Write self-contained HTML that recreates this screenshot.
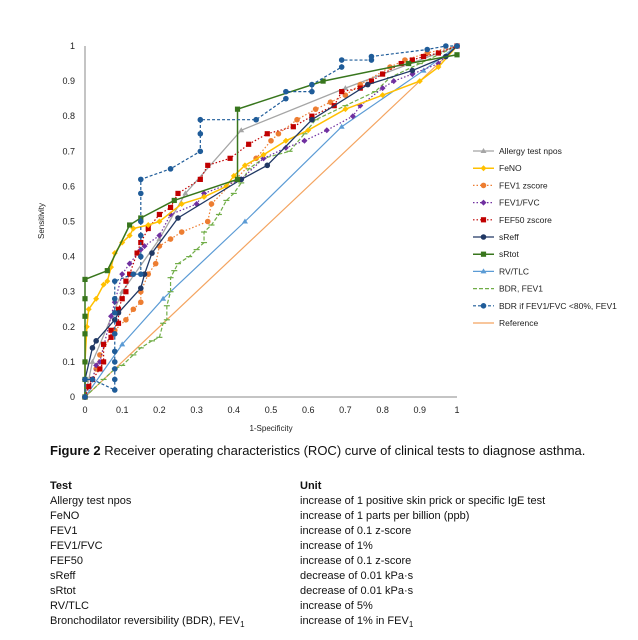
<!DOCTYPE html>
<html><head><meta charset="utf-8">
<style>
body{margin:0;background:#fff;width:638px;height:640px;overflow:hidden;font-family:"Liberation Sans",sans-serif}
svg{position:absolute;left:0;top:0}
.t{position:absolute;font-size:11px;color:#111;white-space:nowrap}
</style></head><body>
<svg id="chart" width="638" height="440" xmlns="http://www.w3.org/2000/svg"></svg>
<div class="t" style="left:50px;top:443px;font-size:13px"><b>Figure 2</b> Receiver operating characteristics (ROC) curve of clinical tests to diagnose asthma.</div>
<div>
<div class="t" style="left:50px;top:480px;font-weight:bold">Test</div><div class="t" style="left:300px;top:480px;font-weight:bold">Unit</div>
<div class="t" style="left:50px;top:495px">Allergy test npos</div><div class="t" style="left:300px;top:495px">increase of 1 positive skin prick or specific IgE test</div>
<div class="t" style="left:50px;top:510px">FeNO</div><div class="t" style="left:300px;top:510px">increase of 1 parts per billion (ppb)</div>
<div class="t" style="left:50px;top:525px">FEV1</div><div class="t" style="left:300px;top:525px">increase of 0.1 z-score</div>
<div class="t" style="left:50px;top:540px">FEV1/FVC</div><div class="t" style="left:300px;top:540px">increase of 1%</div>
<div class="t" style="left:50px;top:555px">FEF50</div><div class="t" style="left:300px;top:555px">increase of 0.1 z-score</div>
<div class="t" style="left:50px;top:570px">sReff</div><div class="t" style="left:300px;top:570px">decrease of 0.01 kPa·s</div>
<div class="t" style="left:50px;top:585px">sRtot</div><div class="t" style="left:300px;top:585px">decrease of 0.01 kPa·s</div>
<div class="t" style="left:50px;top:600px">RV/TLC</div><div class="t" style="left:300px;top:600px">increase of 5%</div>
<div class="t" style="left:50px;top:615px">Bronchodilator reversibility (BDR), FEV<sub style="font-size:8px">1</sub></div><div class="t" style="left:300px;top:615px">increase of 1% in FEV<sub style="font-size:8px">1</sub></div>
</div>
<script>
const ticks=[0,0.1,0.2,0.3,0.4,0.5,0.6,0.7,0.8,0.9,1];
const tickLabels=["0","0.1","0.2","0.3","0.4","0.5","0.6","0.7","0.8","0.9","1"];
const seriesNames=["Allergy test npos","FeNO","FEV1 zscore","FEV1/FVC","FEF50 zscore","sReff","sRtot","RV/TLC","BDR, FEV1","BDR if FEV1/FVC <80%, FEV1","Reference"];
const allergyX=[0,0.02,0.1,0.2,0.27,0.42,0.7,1];
const allergyY=[0,0.1,0.3,0.45,0.58,0.76,0.88,1];
const fenoX=[0,0,0.005,0.01,0.03,0.05,0.06,0.07,0.08,0.1,0.12,0.13,0.17,0.2,0.26,0.32,0.38,0.4,0.43,0.48,0.54,0.6,0.7,0.8,0.9,0.95,1];
const fenoY=[0,0.1,0.2,0.25,0.28,0.32,0.33,0.37,0.41,0.44,0.46,0.48,0.49,0.5,0.55,0.57,0.6,0.63,0.66,0.69,0.73,0.76,0.82,0.86,0.9,0.94,1];
const fev1X=[0,0.03,0.04,0.08,0.11,0.13,0.15,0.15,0.17,0.19,0.2,0.23,0.26,0.33,0.34,0.46,0.5,0.52,0.57,0.62,0.66,0.7,0.74,0.82,0.86,0.92,1];
const fev1Y=[0,0.08,0.12,0.19,0.22,0.25,0.27,0.3,0.35,0.38,0.43,0.45,0.47,0.5,0.55,0.68,0.73,0.75,0.79,0.82,0.84,0.86,0.89,0.94,0.96,0.98,1];
const fvcX=[0,0.02,0.03,0.04,0.07,0.08,0.1,0.12,0.15,0.16,0.2,0.23,0.3,0.32,0.42,0.48,0.54,0.59,0.65,0.72,0.74,0.8,0.83,0.88,0.95,1];
const fvcY=[0,0.05,0.09,0.1,0.23,0.27,0.35,0.38,0.42,0.43,0.46,0.52,0.55,0.58,0.62,0.68,0.71,0.73,0.76,0.8,0.83,0.88,0.9,0.92,0.95,1];
const fef50X=[0,0.01,0.02,0.04,0.05,0.05,0.07,0.07,0.09,0.09,0.1,0.11,0.11,0.12,0.14,0.15,0.17,0.2,0.23,0.25,0.31,0.33,0.39,0.44,0.49,0.56,0.61,0.67,0.69,0.74,0.77,0.8,0.85,0.88,0.91,0.95,1];
const fef50Y=[0,0.03,0.05,0.08,0.1,0.15,0.17,0.19,0.21,0.25,0.28,0.3,0.33,0.35,0.41,0.44,0.48,0.52,0.54,0.58,0.62,0.66,0.68,0.72,0.75,0.77,0.8,0.83,0.87,0.88,0.9,0.92,0.95,0.96,0.97,0.98,1];
const sreffX=[0,0,0.02,0.03,0.08,0.09,0.15,0.16,0.18,0.25,0.42,0.49,0.61,0.76,0.88,0.97,1];
const sreffY=[0,0.05,0.14,0.16,0.22,0.24,0.31,0.35,0.41,0.51,0.62,0.66,0.79,0.89,0.93,0.97,1];
const srtotX=[0,0,0,0,0,0,0,0.06,0.12,0.15,0.24,0.41,0.41,0.64,0.87,1];
const srtotY=[0,0.05,0.1,0.18,0.23,0.28,0.335,0.36,0.49,0.51,0.56,0.62,0.82,0.9,0.95,0.975];
const rvX=[0,0.1,0.21,0.43,0.69,0.91,1];
const rvY=[0,0.15,0.28,0.5,0.77,0.93,1];
const bdrX=[0,0.05,0.08,0.1,0.13,0.15,0.18,0.2,0.21,0.22,0.22,0.23,0.23,0.24,0.25,0.28,0.3,0.32,0.32,0.34,0.36,0.38,0.4,0.42,0.44,0.48,0.55,0.59,0.62,0.7,0.78,0.82,0.9,1];
const bdrY=[0,0.05,0.08,0.09,0.12,0.14,0.16,0.17,0.21,0.22,0.26,0.3,0.34,0.36,0.38,0.4,0.42,0.44,0.47,0.49,0.52,0.56,0.58,0.61,0.65,0.68,0.7,0.75,0.79,0.83,0.87,0.91,0.95,1];
const bdr80X=[0,0,0.02,0.08,0.08,0.08,0.08,0.08,0.08,0.08,0.08,0.08,0.13,0.15,0.15,0.15,0.15,0.15,0.15,0.23,0.31,0.31,0.31,0.46,0.54,0.54,0.61,0.61,0.69,0.69,0.77,0.77,0.92,0.97,1];
const bdr80Y=[0,0.05,0.05,0.02,0.05,0.08,0.1,0.13,0.18,0.24,0.28,0.33,0.35,0.35,0.4,0.46,0.5,0.58,0.62,0.65,0.7,0.75,0.79,0.79,0.85,0.87,0.87,0.89,0.94,0.96,0.96,0.97,0.99,1,1];
const refX=[0,1];
const refY=[0,1];

const svg=document.getElementById('chart');const NS="http://www.w3.org/2000/svg";
const X=v=>85+372*v, Y=v=>397-351*v;
function mk(t,a,p){const e=document.createElementNS(NS,t);for(const k in a)e.setAttribute(k,a[k]);(p||svg).appendChild(e);return e;}
let ax=mk('line',{x1:X(0),y1:Y(0),x2:X(0),y2:Y(1),stroke:'#888','stroke-width':1});


let ax2=mk('line',{x1:X(0),y1:Y(0),x2:X(1),y2:Y(0),stroke:'#888','stroke-width':1});


ticks.forEach((t,i)=>{
 let a=mk('text',{x:X(t),y:413,'font-size':9,'text-anchor':'middle',fill:'#222'});a.textContent=tickLabels[i];
 
 
 let b=mk('text',{x:75,y:Y(t)+3,'font-size':9,'text-anchor':'end',fill:'#222'});b.textContent=tickLabels[i];
 
 
});
let xt=mk('text',{x:271,y:431,'font-size':8,'text-anchor':'middle',fill:'#222'});xt.textContent='1-Specificity';


let yt=mk('text',{x:0,y:0,'font-size':8,'text-anchor':'middle',fill:'#222',transform:'translate(44,221) rotate(-90)'});yt.textContent='Sensitivity';



const styles=[
 {c:'#a5a5a5',d:'',m:'tri',w:1.3},{c:'#ffc000',d:'',m:'dia',w:1.5},{c:'#ed7d31',d:'1.5 2',m:'circ',w:1.2},
 {c:'#7030a0',d:'1.5 2',m:'dia',w:1.2},{c:'#c00000',d:'1.5 2',m:'sq',w:1.2},{c:'#203864',d:'',m:'circ',w:1.3},
 {c:'#38761d',d:'',m:'sq',w:1.5},{c:'#5b9bd5',d:'',m:'tri',w:1.2},{c:'#70ad47',d:'4 2',m:'dash',w:1.2},
 {c:'#1f5c99',d:'3 2',m:'circ',w:1.2},{c:'#f4a460',d:'',m:'none',w:1.2}];
const dataX=[allergyX,fenoX,fev1X,fvcX,fef50X,sreffX,srtotX,rvX,bdrX,bdr80X,refX];
const dataY=[allergyY,fenoY,fev1Y,fvcY,fef50Y,sreffY,srtotY,rvY,bdrY,bdr80Y,refY];
const slugs=['allergy','feno','fev1-zscore','fev1-fvc','fef50-zscore','sreff','srtot','rv-tlc','bdr-fev1','bdr-fev1-fvc-80','reference'];
function marker(m,x,y,c,g){
 if(m==='circ')return mk('circle',{cx:x,cy:y,r:2.8,fill:c},g);
 if(m==='sq')return mk('rect',{x:x-2.6,y:y-2.6,width:5.2,height:5.2,fill:c},g);
 if(m==='dia')return mk('polygon',{points:`${x},${y-3} ${x+3},${y} ${x},${y+3} ${x-3},${y}`,fill:c},g);
 if(m==='tri')return mk('polygon',{points:`${x},${y-3} ${x+3},${y+2} ${x-3},${y+2}`,fill:c},g);
 if(m==='dash')return mk('line',{x1:x-3,y1:y,x2:x+3,y2:y,stroke:c,'stroke-width':1.2},g);
}
const order=[10,7,8,0,2,3,4,1,5,6,9];
order.forEach(i=>{
 const s=styles[i];const g=mk('g',{});
 
 
 const pts=dataX[i].map((x,j)=>X(x)+','+Y(dataY[i][j])).join(' ');
 mk('polyline',{points:pts,fill:'none',stroke:s.c,'stroke-width':s.w,'stroke-dasharray':s.d},g);
 if(s.m!=='none')dataX[i].forEach((x,j)=>{const p=marker(s.m,X(x),Y(dataY[i][j]),s.c,g);
  
  });
});
seriesNames.forEach((n,i)=>{
 const s=styles[i];const y=151+17.2*i;const g=mk('g',{});
 
 
 mk('line',{x1:473,y1:y,x2:494,y2:y,stroke:s.c,'stroke-width':s.w,'stroke-dasharray':s.d},g);
 if(s.m!=='none'&&s.m!=='dash')marker(s.m,483.5,y,s.c,g);
 const t=mk('text',{x:499,y:y+3,'font-size':8.5,fill:'#222'},g);t.textContent=n;
});
</script>
</body></html>
